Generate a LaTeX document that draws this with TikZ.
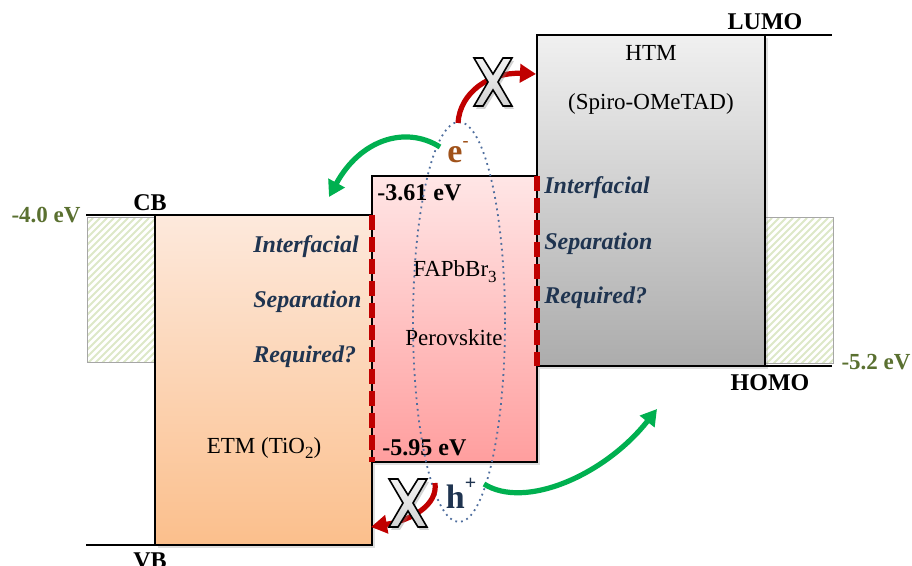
\documentclass[tikz,border=0pt]{standalone}
\usepackage{fontspec}
\setmainfont{Liberation Serif}
\usetikzlibrary{arrows.meta,shadows}
\definecolor{olivetxt}{HTML}{5A7030}
\definecolor{navytxt}{HTML}{1F3450}
\definecolor{browntxt}{HTML}{A0521A}
\definecolor{redarr}{HTML}{C00000}
\definecolor{greenarr}{HTML}{00B050}
\definecolor{ellblue}{HTML}{4F6E9E}
\definecolor{hatchgreen}{HTML}{DDE8C8}
\definecolor{etmtop}{HTML}{FDE9DC}
\definecolor{etmbot}{HTML}{FBBF8C}
\tikzset{
  boxshadow/.style={drop shadow={opacity=0.25, shadow xshift=1.5pt, shadow yshift=-1.5pt}},
  bandbox/.style={draw=black, line width=0.8pt, boxshadow},
  levelline/.style={draw=black, line width=0.9pt},
  lbl/.style={font=\fontsize{12}{14}\selectfont\bfseries, inner sep=0pt},
  evlbl/.style={font=\fontsize{11.5}{14}\selectfont\bfseries, text=olivetxt, inner sep=0pt},
  plain/.style={font=\fontsize{11.5}{14}\selectfont, inner sep=0pt},
  ital/.style={font=\fontsize{12}{14}\selectfont\bfseries\itshape, text=navytxt, inner sep=0pt, anchor=west},
  redash/.style={draw=redarr, line width=2.6pt, dash pattern=on 7.5pt off 3.5pt},
  hatchline/.style={draw=hatchgreen, line width=1pt},
  hatchbox/.style={draw=gray!70, line width=0.5pt},
  redarrow/.style={draw=redarr, line width=2.6pt, -{Triangle[length=8pt,width=9pt]}},
  greenarrow/.style={draw=greenarr, line width=2.6pt, -{Triangle[length=8pt,width=9pt]}},
  xmark/.pic={\path[top color=gray!10, bottom color=gray!35, draw=black, line width=0.8pt, line join=miter, drop shadow={opacity=0.35, shadow xshift=1pt, shadow yshift=-1.5pt}]
    (-19,-24)--(-10,-24)--(0,-8)--(10,-24)--(19,-24)--(5,0)--(19,24)--(10,24)--(0,8)--(-10,24)--(-19,24)--(-5,0)--cycle;}
}
\begin{document}
\begin{tikzpicture}[x=0.5pt,y=-0.5pt]
\useasboundingbox (0,0) rectangle (912,566);

% hatched side boxes
\begin{scope}
\clip (87,218) rectangle (155,363);
\foreach \i in {-160,-153,...,80} \draw[hatchline] (87+\i,363) -- (232+\i,218);
\end{scope}
\draw[hatchbox] (87,218) rectangle (155,363);
\begin{scope}
\clip (765,218) rectangle (833,364);
\foreach \i in {-160,-153,...,80} \draw[hatchline] (765+\i,364) -- (911+\i,218);
\end{scope}
\draw[hatchbox] (765,218) rectangle (833,364);

% energy level lines
\coordinate (cbL) at (86,215);
\coordinate (vbL) at (86,545);
\coordinate (lumoR) at (832,35);
\coordinate (homoR) at (832,366);

% boxes
\path[bandbox, top color=etmtop, bottom color=etmbot] (155,215) rectangle (372,545);
\path[bandbox, top color={rgb,255:red,255;green,230;blue,230}, bottom color={rgb,255:red,255;green,158;blue,158}] (372,176) rectangle (537,462);
\path[bandbox, top color={rgb,255:red,240;green,240;blue,240}, bottom color={rgb,255:red,172;green,172;blue,172}] (537,35) rectangle (765,366);

\draw[levelline] (cbL) -- (155,215);
\draw[levelline] (vbL) -- (155,545);
\draw[levelline] (765,35) -- (lumoR);
\draw[levelline] (765,366) -- (homoR);

% red dashed interfaces
\draw[redash] (372,215) -- (372,462);
\draw[redash] (537,176) -- (537,366);

% labels
\node[lbl] (cb) at (150,203) {CB};
\node[lbl] (vb) at (150,561) {VB};
\node[lbl] (lumo) at (765,22) {LUMO};
\node[lbl] (homo) at (770,383) {HOMO};
\node[evlbl] (ev40) at (46,215) {-4.0 eV};
\node[evlbl] (ev52) at (876,362) {-5.2 eV};
\node[lbl, anchor=west] (ev361) at (377,193) {-3.61 eV};
\node[lbl, anchor=west] (ev595) at (382,448) {-5.95 eV};

\node[plain] (fap) at (455,272) {FAPbBr\raisebox{-0.55ex}{\fontsize{8.5}{10}\selectfont 3}};
\node[plain] (perov) at (454,338) {Perovskite};
\node[plain] (htm) at (651,53) {HTM};
\node[plain] (spiro) at (651,104) {(Spiro-OMeTAD)};
\node[plain] (etmlbl) at (264,448) {ETM (TiO\raisebox{-0.55ex}{\fontsize{8.5}{10}\selectfont 2})};

\node[ital] (i1) at (253,247) {Interfacial};
\node[ital] (s1) at (253,302) {Separation};
\node[ital] (r1) at (253,357) {Required?};
\node[ital] (i2) at (544,188) {Interfacial};
\node[ital] (s2) at (544,244) {Separation};
\node[ital] (r2) at (544,298) {Required?};

% exciton ellipse
\draw[ellblue, line width=0.9pt, dotted] (459,322) ellipse [x radius=46, y radius=200];

\node[font=\fontsize{17}{18}\selectfont\bfseries, text=browntxt, inner sep=0pt] (eminus) at (458,152) {e\raisebox{1.0ex}{\fontsize{9}{10}\selectfont -}};
\node[font=\fontsize{17}{18}\selectfont\bfseries, text=navytxt, inner sep=0pt] (hplus) at (461,493) {h\raisebox{1.2ex}{\fontsize{10}{10}\selectfont +}};

% arrows
\coordinate (rt0) at (458,123);
\coordinate (rt1) at (536,74);
\coordinate (gt0) at (440,147);
\coordinate (gt1) at (329,197);
\coordinate (rb0) at (435,483);
\coordinate (rb1) at (371,527);
\coordinate (gb0) at (484,484);
\coordinate (gb1) at (657,409);

\draw[redarrow] (rt0) .. controls (460,92) and (490,72) .. (rt1);
\draw[greenarrow] (gt0) .. controls (405,125) and (360,140) .. (gt1);
\draw[redarrow] (rb0) .. controls (438,505) and (412,520) .. (rb1);
\draw[greenarrow] (gb0) .. controls (525,510) and (605,475) .. (gb1);

\pic at (493,82) {xmark};
\pic at (408,503) {xmark};
\end{tikzpicture}
\end{document}
